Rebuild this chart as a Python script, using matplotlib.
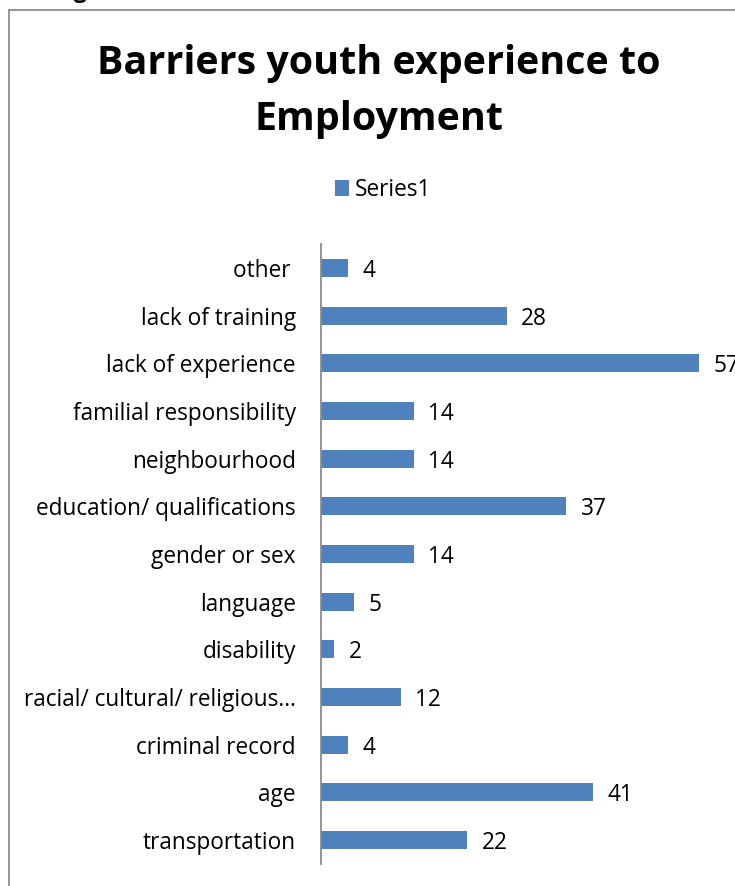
import matplotlib.pyplot as plt
from matplotlib.lines import Line2D

categories = ["transportation", "age", "criminal record",
              "racial/ cultural/ religious\u2026", "disability", "language",
              "gender or sex", "education/ qualifications", "neighbourhood",
              "familial responsibility", "lack of experience",
              "lack of training", "other "]
values = [22, 41, 4, 12, 2, 5, 14, 37, 14, 14, 57, 28, 4]

bar_color = "#4f81bd"
plt.rcParams["font.family"] = ["Open Sans", "DejaVu Sans"]
fs = 16.3

fig = plt.figure(figsize=(7.35, 8.86), dpi=100)
ax = fig.add_axes([0.4367, 0.0251, 0.5415, 0.6993])

pos = range(len(categories))
ax.barh(pos, values, height=0.38, color=bar_color, label="Series1")
for y, v in zip(pos, values):
    ax.text(v + 2.2, y, str(v), va="center_baseline", ha="left", fontsize=fs)

ax.set_xlim(0, 60)
ax.set_ylim(-0.5, len(categories) - 0.5)
ax.set_yticks(list(pos))
ax.set_yticklabels(categories, fontsize=fs)
ax.tick_params(axis="y", length=0, pad=18)
ax.set_xticks([])
for side in ["top", "right", "bottom"]:
    ax.spines[side].set_visible(False)
ax.spines["left"].set_color("#8c8c8c")
ax.spines["left"].set_linewidth(1.3)

fig.text(0.515, 0.897, "Barriers youth experience to\nEmployment", ha="center",
         va="center", fontsize=28.4, fontweight="bold", linespacing=1.55)

ax.legend(loc="center", bbox_to_anchor=(0.521, 0.7856), bbox_transform=fig.transFigure,
          frameon=False, fontsize=fs, handlelength=0.65, handleheight=0.65,
          handletextpad=0.25)

# outer chart border (left and top edges)
fig.add_artist(Line2D([9 / 735, 9 / 735], [0, 1 - 10 / 886], color="#8c8c8c", lw=1.3))
fig.add_artist(Line2D([9 / 735, 1], [1 - 10 / 886, 1 - 10 / 886], color="#8c8c8c", lw=1.3))
fig.text(0.1, 1.008, "g", ha="left", va="center", fontsize=16, fontweight="bold")

fig.savefig("out.png", dpi=100)
